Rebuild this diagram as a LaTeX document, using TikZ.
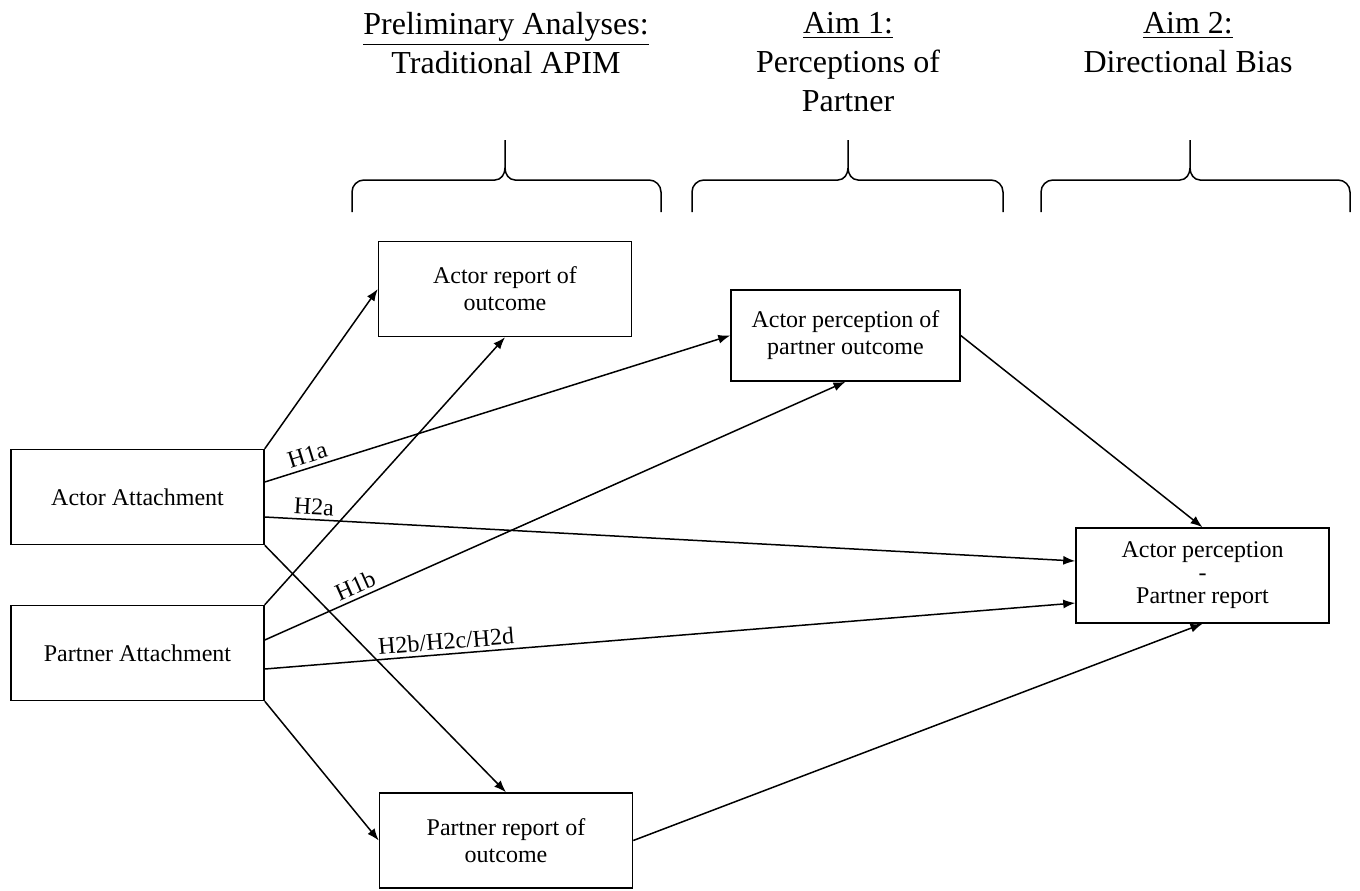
\documentclass[tikz,border=0pt]{standalone}
\usepackage{fontspec}
\setmainfont{Liberation Serif}
\usetikzlibrary{arrows.meta}

\begin{document}
\begin{tikzpicture}[x=0.5pt, y=-0.5pt, line width=0.75pt, >={Latex[length=6pt,width=4.5pt]},
    box/.style={draw, minimum width=126.5pt, minimum height=47.5pt, inner sep=2pt, align=center, font=\fontsize{12}{13.5}\selectfont},
    head/.style={anchor=north, inner sep=0pt, align=center, font=\fontsize{16}{19.5}\selectfont},
    hyp/.style={sloped, above, inner sep=2pt, font=\fontsize{12}{13.5}\selectfont}]

            \useasboundingbox (0,0) rectangle (1360,890);

            % Headings
            \node[head] (prelim) at (506,12) {\underline{Preliminary Analyses:}\\Traditional APIM};
            \node[head] (aim1) at (848,12) {\underline{Aim 1:}\\Perceptions of\\Partner};
            \node[head] (aim2) at (1188,12) {\underline{Aim 2:}\\Directional Bias};

            % Braces
            \foreach \l/\m/\r in {352/505/661, 692/848/1003, 1041/1190/1350}
              \draw (\l,212) -- (\l,192) to[out=90,in=180] (\l+12,180) -- (\m-10,180)
                    to[out=0,in=-90] (\m,168) -- (\m,140) -- (\m,168)
                    to[out=-90,in=180] (\m+10,180) -- (\r-12,180) to[out=0,in=90] (\r,192) -- (\r,212);

            % Nodes
            \node[box] (actor) at (137.5,497) {Actor Attachment};
            \node[box] (partner) at (137.5,653) {Partner Attachment};
            \node[box] (actrep) at (505,289) {Actor report of\\outcome};
            \node[box, minimum width=114.5pt, minimum height=45.5pt] (actperc) at (845.5,335.5) {Actor perception of\\partner outcome};
            \node[box] (partrep) at (506,840.5) {Partner report of\\outcome};
            \node[box] (diff) at (1202.5,575.5) {Actor perception\\[-2pt]-\\[-2pt]Partner report};

            % Edges (directed)
            \draw[->] (actor.north east) -- (actrep.west);
            \draw[->] (partner.north east) -- (actrep.south);
            \draw[->] ([yshift=7.5pt]actor.east) -- node[hyp, pos=0.1] {H1a} (actperc.west);
            \draw[->] ([yshift=6.5pt]partner.east) -- node[hyp, pos=0.165] {H1b} (actperc.south);
            \draw[->] ([yshift=-10pt]actor.east) -- node[hyp, pos=0.06] {H2a} ([yshift=7.25pt]diff.west);
            \draw[->] ([yshift=-8pt]partner.east) -- node[hyp, pos=0.225] {H2b/H2c/H2d} ([yshift=-13.75pt]diff.west);
            \draw[->] (actor.south east) -- (partrep.north);
            \draw[->] (partner.south east) -- (partrep.west);
            \draw[->] (actperc.east) -- (diff.north);
            \draw[->] (partrep.east) -- (diff.south);
            \end{tikzpicture}
\end{document}
